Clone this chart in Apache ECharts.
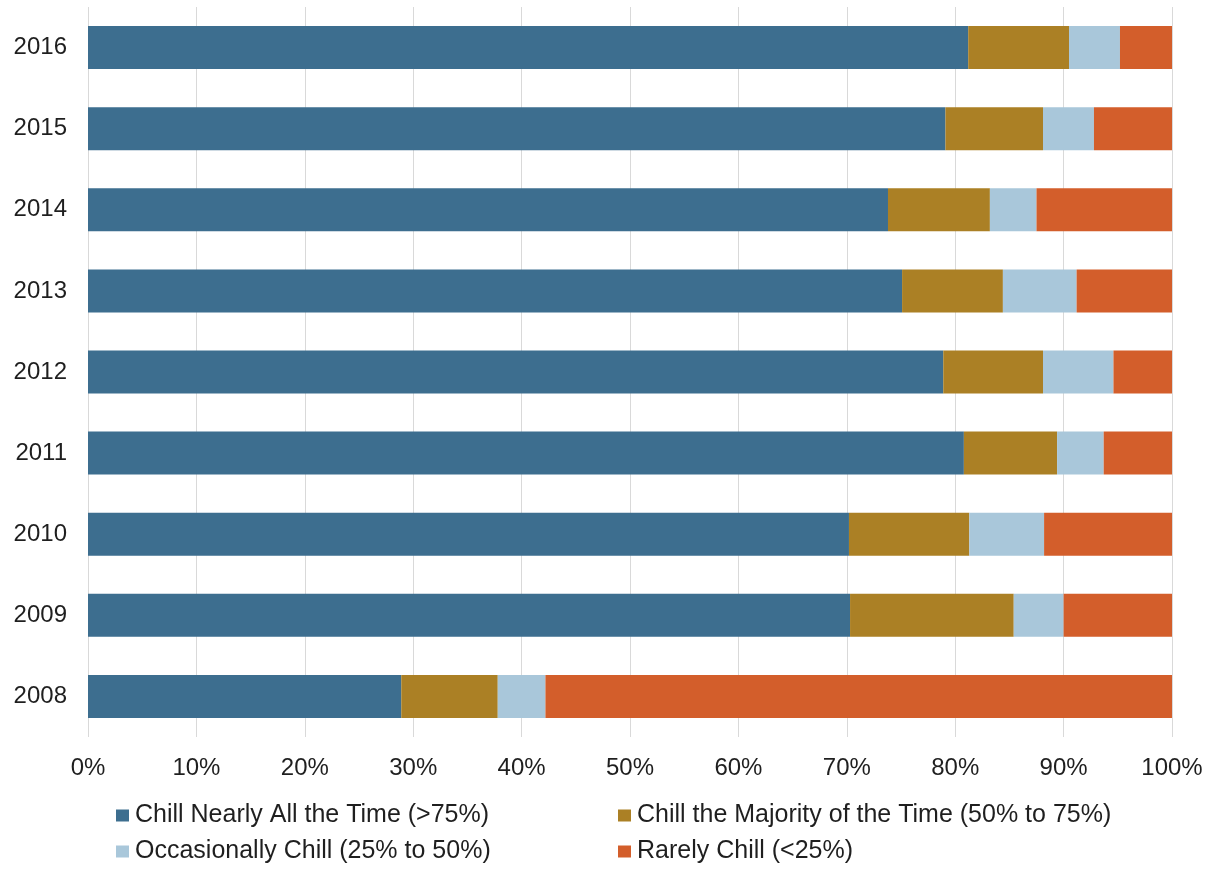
<!DOCTYPE html>
<html>
<head>
<meta charset="utf-8">
<script src="https://cdn.jsdelivr.net/npm/echarts@6/dist/echarts.min.js"></script>
<style>
  html, body { margin: 0; padding: 0; background: #fff; }
  #chart { width: 1225px; height: 869px; }
</style>
</head>
<body>
<div id="chart"></div>
<script>
// Survey years, top to bottom
const years = ['2016', '2015', '2014', '2013', '2012', '2011', '2010', '2009', '2008'];

// Share of respondents (%) in each chill band, per year
const nearlyAll = [81.2, 79.1, 73.8, 75.1, 78.9, 80.8, 70.2, 70.3, 28.9];
const majority  = [9.3, 9.0, 9.4, 9.3, 9.2, 8.6, 11.1, 15.1, 8.9];
const occasion  = [4.7, 4.7, 4.3, 6.8, 6.5, 4.3, 6.9, 4.6, 4.4];
const rarely    = [4.8, 7.2, 12.5, 8.8, 5.4, 6.3, 11.8, 10.0, 57.8];

const seriesNames = [
  'Chill Nearly All the Time (>75%)',
  'Chill the Majority of the Time (50% to 75%)',
  'Occasionally Chill (25% to 50%)',
  'Rarely Chill (<25%)'
];
const colors = ['#3d6e8f', '#ab8025', '#a9c7da', '#d35e2b'];
const seriesData = [nearlyAll, majority, occasion, rarely];

const font = "'Liberation Sans', Arial, sans-serif";
const textColor = '#1f1f1f';

const chart = echarts.init(document.getElementById('chart'));

const legendCommon = {
  orient: 'vertical',
  top: 798,
  itemWidth: 13,
  itemHeight: 12,
  itemGap: 11,
  icon: 'rect',
  selectedMode: false,
  textStyle: { fontFamily: font, fontSize: 25, color: textColor, padding: [0, 0, 0, 1] }
};

chart.setOption({
  animation: false,
  color: colors,
  textStyle: { fontFamily: font },
  grid: { left: 88, right: 53, top: 7, bottom: 132, containLabel: false },
  legend: [
    Object.assign({ left: 111, data: [seriesNames[0], seriesNames[2]] }, legendCommon),
    Object.assign({ left: 613, data: [seriesNames[1], seriesNames[3]] }, legendCommon)
  ],
  xAxis: {
    type: 'value',
    min: 0,
    max: 100,
    interval: 10,
    axisLine: { show: false },
    axisTick: { show: false },
    splitLine: { show: true, lineStyle: { color: '#d9d9d9', width: 1 } },
    axisLabel: {
      formatter: '{value}%',
      fontFamily: font,
      fontSize: 24,
      color: textColor,
      margin: 19
    }
  },
  yAxis: {
    type: 'category',
    data: years,
    inverse: true,
    axisLine: { show: false },
    axisTick: { show: false },
    axisLabel: {
      fontFamily: font,
      fontSize: 24,
      color: textColor,
      margin: 21
    }
  },
  series: seriesNames.map((name, i) => ({
    name: name,
    type: 'bar',
    stack: 'total',
    barCategoryGap: '47%',
    data: seriesData[i],
    itemStyle: { color: colors[i] }
  }))
});
</script>
</body>
</html>
